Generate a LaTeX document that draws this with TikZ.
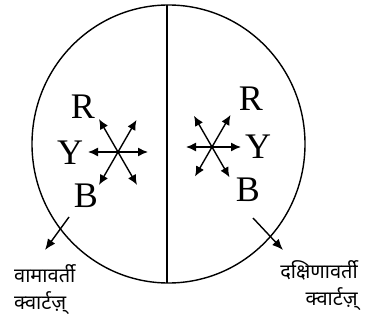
\documentclass[tikz,border=0pt]{standalone}
\usepackage{fontspec}
\setmainfont{Liberation Serif}
\newfontfamily\hindi[Script=Devanagari]{Noto Sans}
\usetikzlibrary{arrows.meta, calc}

\begin{document}
\begin{tikzpicture}[
  x=1pt, y=-1pt,
  dbl/.style={{Latex[length=10pt,width=9pt]}-{Latex[length=10pt,width=9pt]}, line width=1.4pt},
  outarrow/.style={-{Latex[length=11pt,width=9pt]}, line width=1.4pt},
  letter/.style={font=\fontsize{36}{36}\selectfont, inner sep=0pt},
  caption/.style={font=\hindi\fontsize{20}{27}\selectfont, inner sep=0pt}
]
\useasboundingbox (0,0) rectangle (367,323);

% outer circle and dividing line
\draw[line width=1.4pt] (168.5,144) ellipse [x radius=136.5pt, y radius=139pt];
\coordinate (top) at (167,5);
\coordinate (bottom) at (167,283);
\draw[line width=1.1pt] (top) -- (bottom);

% left quartz
\coordinate (lc) at (118,152);
\draw[dbl] ($(lc)+(-30,0)$) -- ($(lc)+(30,0)$);
\draw[dbl] ($(lc)+(120:38)$) -- ($(lc)+(-60:37)$);
\draw[dbl] ($(lc)+(60:38)$) -- ($(lc)+(-120:38)$);
\node[letter] (lR) at (83,107) {R};
\node[letter] (lY) at (70,153) {Y};
\node[letter] (lB) at (86,196) {B};

% right quartz
\coordinate (rc) at (212,147);
\draw[dbl] ($(rc)+(-26,0)$) -- ($(rc)+(29,0)$);
\draw[dbl] ($(rc)+(120:34)$) -- ($(rc)+(-60:37)$);
\draw[dbl] ($(rc)+(60:35)$) -- ($(rc)+(-120:36)$);
\node[letter] (rR) at (251,99) {R};
\node[letter] (rY) at (258,147) {Y};
\node[letter] (rB) at (248,190) {B};

% captions
\node[caption, align=left, anchor=north west] (left) at (14,264) {वामावर्ती\\क्वार्टज़्};
\node[caption, align=right, anchor=north east] (right) at (358,260) {दक्षिणावर्ती\\क्वार्टज़्};

\coordinate (lstart) at (69,217);
\coordinate (ltip) at (45,250);
\coordinate (rstart) at (253,218);
\coordinate (rtip) at (283,250);
\draw[outarrow] (lstart) -- (ltip);
\draw[outarrow] (rstart) -- (rtip);
\end{tikzpicture}
\end{document}
